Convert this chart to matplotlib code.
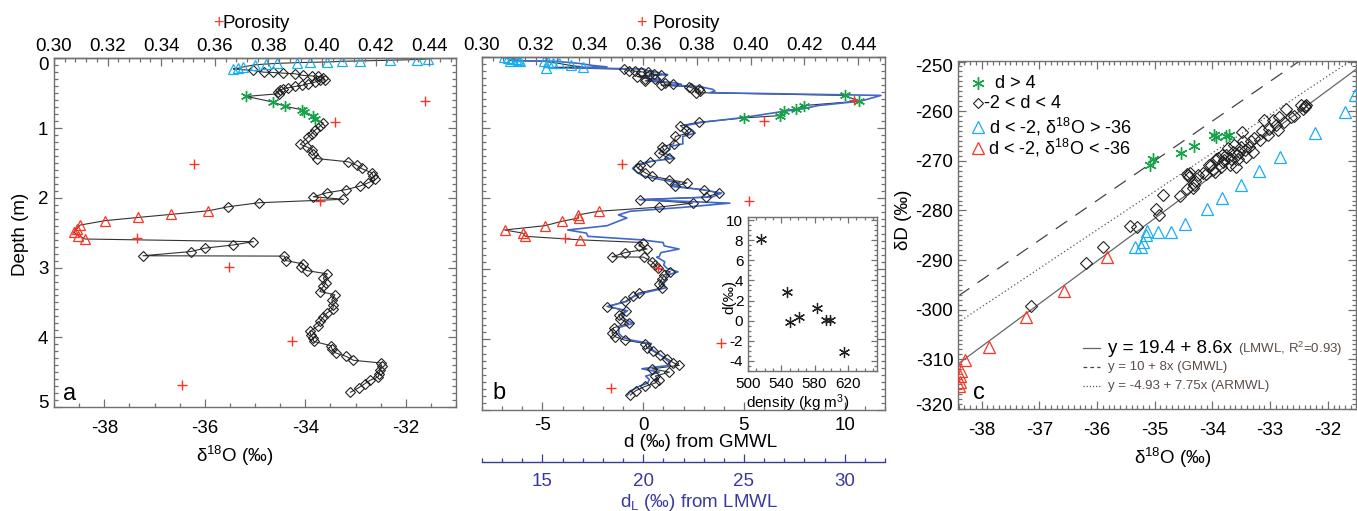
import numpy as np
import matplotlib
matplotlib.use('Agg')
import matplotlib.pyplot as plt
from matplotlib.ticker import MultipleLocator, FixedLocator, FormatStrFormatter
from matplotlib.transforms import ScaledTranslation

plt.rcParams['font.family'] = ['Liberation Sans', 'DejaVu Sans']
plt.rcParams['mathtext.fontset'] = 'custom'
plt.rcParams['mathtext.rm'] = 'Liberation Sans'
plt.rcParams['mathtext.it'] = 'Liberation Sans:italic'
plt.rcParams['mathtext.bf'] = 'Liberation Sans:bold'
plt.rcParams['mathtext.default'] = 'regular'
plt.rcParams['axes.unicode_minus'] = False

# ---------------- data: depth profiles (panels a, b) ----------------
depth = [0.005, 0.015, 0.025, 0.035, 0.04, 0.05, 0.055, 0.06, 0.07, 0.08, 0.09, 0.12, 0.14, 0.15,
         0.172, 0.196, 0.20, 0.21, 0.219, 0.243, 0.25, 0.258, 0.277, 0.305,
         0.315, 0.339, 0.362, 0.386, 0.40, 0.42, 0.434, 0.458, 0.482, 0.505,
         0.544, 0.625, 0.687, 0.734, 0.768, 0.83, 0.863,
         0.925, 0.973, 1.03, 1.077, 1.126, 1.23, 1.269, 1.306, 1.363, 1.435,
         1.483, 1.53, 1.578, 1.64, 1.688, 1.736, 1.784, 1.83, 1.88, 1.927, 1.984, 2.02, 2.07, 2.127,
         2.185, 2.237, 2.28, 2.327, 2.39, 2.45, 2.494, 2.54, 2.59,
         2.628, 2.675, 2.72, 2.77, 2.83, 2.835,
         2.9, 2.947, 2.994, 3.043, 3.09, 3.15, 3.215, 3.27, 3.343, 3.39,
         3.462, 3.534, 3.595, 3.652, 3.71, 3.773, 3.834, 3.916, 3.963, 4.01,
         4.059, 4.12, 4.167, 4.225, 4.273, 4.33, 4.368, 4.416, 4.464, 4.52,
         4.568, 4.617, 4.664, 4.725, 4.788]

d18o = [-31.55, -31.78, -32.31, -32.91, -33.27, -33.57, -33.91, -34.17, -34.57, -34.79, -35.00, -35.23, -35.33, -35.43,
        -35.03, -34.83, -34.65, -34.44, -34.20, -34.04, -33.87, -33.74, -33.64, -33.61,
        -33.71, -33.81, -33.94, -34.07, -34.20, -34.34, -34.44, -34.50, -34.54, -34.52,
        -35.17, -34.64, -34.40, -34.07, -34.02, -33.84, -33.81,
        -33.64, -33.71, -33.81, -33.87, -33.94, -34.10, -33.97, -33.87, -33.84, -33.77,
        -33.14, -32.98, -32.88, -32.68, -32.65, -32.61, -32.75, -32.91, -33.18, -33.57, -33.84, -33.24, -34.93, -35.53,
        -35.93, -36.68, -37.32, -37.99, -38.48, -38.55, -38.60, -38.52, -38.38,
        -35.03, -35.43, -35.99, -36.28, -37.23, -34.42,
        -34.38, -34.04, -34.09, -33.97, -33.56, -33.64, -33.59, -33.64, -33.71, -33.41,
        -33.47, -33.44, -33.45, -33.57, -33.64, -33.71, -33.74, -33.91, -33.89, -33.85,
        -33.83, -33.49, -33.47, -33.39, -33.19, -33.04, -32.50, -32.48, -32.51, -32.53,
        -32.55, -32.71, -32.81, -32.94, -33.10]

d_excess = [-6.9, -6.7, -6.5, -6.3, -6.2, -6.6, -6.1, -4.9, -4.7, -4.5, -4.2, -3.6, -3.0, -4.8,
            -0.97, -0.69, -0.42, -0.09, 0.22, 0.52, 0.9, 0.3, -0.3, 0.1,
            0.6, 0.1, 1.1, 1.46, 0.9, 2.26, 2.39, 2.75, 2.84, 2.6,
            10.0, 10.7, 8.0, 7.6, 7.0, 6.8, 5.0,
            2.75, 1.84, 2.12, 2.26, 1.6, 1.51, 0.93, 1.02, 0.77, 1.3,
            0.35, -0.14, -0.26, 0.1, 0.44, 1.3, 2.17, 1.6, 3.0, 3.75, 3.12, -0.14, 2.45, 0.77,
            -2.21, -3.24, -3.2, -4.03, -4.89, -6.88, -5.98, -5.85, -3.12,
            -0.03, -0.22, 0.19, -0.89, -1.55, 0.02,
            0.44, 0.6, 0.73, 1.35, 1.02, 0.93, 0.77, 0.93, -0.22, -0.5,
            -0.89, -1.8, -0.85, -1.22, -1.13, -0.72, -1.47, -1.55, -1.38, -0.92,
            0.11, 0.19, 0.5, 0.85, 1.18, 1.5, 1.79, 0.44, 1.3, 0.6,
            0.77, 0.6, 0.11, -0.36, -0.64]

d_lmwl = [13.0, 13.2, 13.4, 13.6, 13.8, 13.5, 14.2, 15.6, 16.0, 16.4, 16.8, 17.5, 18.2, 16.5,
          20.05, 20.21, 20.37, 20.57, 20.74, 20.94, 21.22, 20.54, 19.88, 20.27,
          20.83, 20.39, 21.46, 21.9, 21.42, 22.86, 23.05, 23.45, 23.56, 23.31,
          31.8, 30.8, 28.7, 27.9, 27.0, 25.6, 24.8,
          22.93, 22.07, 22.41, 22.58, 21.96, 21.97, 21.31, 21.34, 21.07, 21.56,
          20.23, 19.65, 19.47, 19.71, 20.03, 20.87, 21.82, 21.35, 22.91, 23.89, 23.42, 19.8, 24.3, 22.09,
          19.35, 18.77, 19.19, 18.76, 18.2, 16.25, 17.18, 17.26, 19.91,
          20.99, 21.04, 21.78, 20.88, 20.79, 20.67,
          21.07, 21.02, 21.18, 21.73, 21.16, 21.11, 20.92, 21.11, 20.01, 19.55,
          19.19, 18.26, 19.22, 18.92, 19.05, 19.51, 18.77, 18.8, 18.95, 19.39,
          20.41, 20.28, 20.58, 20.88, 21.09, 21.32, 21.29, 19.93, 20.81, 20.12,
          20.3, 20.23, 19.8, 19.4, 19.22]

category = (['tri_hi'] * 14 + ['mid'] * 20 + ['dhi'] * 7 + ['mid'] * 24 +
            ['tri_lo'] * 9 + ['mid'] * 41)

por_depth = [0.61, 0.911, 1.52, 2.046, 2.57, 2.995, 4.058, 4.683]
porosity = [0.4384, 0.4049, 0.3522, 0.3993, 0.3309, 0.3654, 0.3889, 0.3479]

# inset
density = [516, 547, 551, 561, 583, 594, 598, 615]
dens_d = [8.1, 2.8, -0.15, 0.35, 1.25, 0.05, 0.1, -3.1]

# ---------------- data: dual isotope plot (panel c) ----------------
c_star_x = [-35.09, -35.03, -34.55, -34.31, -33.97, -33.93, -33.76, -33.72]
c_star_y = [-270.8, -269.7, -268.5, -267.0, -264.9, -265.3, -265.1, -264.9]

c_dia_x = [-37.14, -36.19, -35.90, -35.43, -35.31, -34.97, -34.92, -34.85, -34.56, -34.44, -34.34, -34.30, -34.25, -34.16,
           -34.44, -34.41, -34.31, -34.11, -34.02, -33.99, -33.93, -33.85, -33.79, -33.76, -33.73, -33.70, -33.67,
           -33.64, -33.62, -33.59, -33.56, -33.53, -33.50, -33.49, -33.47, -33.44, -33.41, -33.37, -33.33, -33.30,
           -33.27, -33.18, -33.14, -33.10, -33.04, -33.01, -32.95, -32.89, -32.86, -32.84, -32.75, -32.72, -32.63,
           -32.58, -32.46, -32.40, -32.37, -32.43,
           -34.42, -34.38, -33.90, -33.84, -33.95, -34.05, -33.81, -33.58, -32.40]
c_dia_y = [-299.3, -290.6, -287.4, -283.2, -283.3, -279.7, -280.9, -276.8, -277.0, -275.6, -275.5, -274.1, -272.9, -272.5,
           -272.7, -273.2, -274.9, -272.7, -270.8, -271.8, -269.6, -271.2, -269.9, -268.9, -267.5, -270.8, -269.6,
           -268.2, -266.8, -271.2, -269.6, -268.2, -267.2, -264.2, -266.1, -267.8, -269.2, -267.2, -266.1, -268.2,
           -265.5, -265.8, -263.9, -261.8, -264.8, -263.5, -261.8, -262.8, -263.7, -261.2, -262.2, -259.5, -261.2,
           -260.9, -258.8, -259.2, -258.7, -259.5,
           -272.9, -272.4, -269.4, -268.9, -272.2, -270.8, -270.2, -268.9, -259.0]

c_blue_x = [-31.52, -31.70, -32.22, -32.83, -33.20, -33.50, -33.83, -34.09, -34.48, -34.71, -34.94, -35.13,
            -35.15, -35.20, -35.24, -35.34]
c_blue_y = [-256.7, -260.1, -264.4, -269.3, -272.0, -274.9, -277.5, -279.7, -282.8, -284.3, -284.3, -284.2,
            -285.0, -286.3, -287.4, -287.4]

c_red_x = [-35.83, -36.58, -37.23, -37.88, -38.29, -38.36, -38.37, -38.38, -38.39]
c_red_y = [-289.3, -296.3, -301.4, -307.6, -310.2, -312.4, -313.4, -314.6, -315.3]

# meteoric water lines (intercept, slope)
lmwl = (19.4, 8.6)
gmwl = (10.0, 8.0)
armwl = (-4.93, 7.75)

# ---------------- style ----------------
SP = '#707070'
RED = '#ff3322'
GREEN = '#17a34a'
CYAN = '#1aaef0'
BLUE = '#3f68c8'
DLC = '#3a3a9c'
TXT2 = '#5a4d48'


def mstyle(scale=1.0, dscale=1.0):
    return {
        'mid': dict(marker='D', ms=4.6 * dscale, mfc='none', mec='#222222', mew=0.8),
        'dhi': dict(marker=(6, 2, 0), ms=8.0 * scale, mfc='none', mec=GREEN, mew=1.0),
        'tri_hi': dict(marker='^', ms=7.8 * scale, mfc='none', mec=CYAN, mew=0.9),
        'tri_lo': dict(marker='^', ms=7.8 * scale, mfc='none', mec=RED, mew=0.9),
    }


def style(ax, fs=13.5):
    for s in ax.spines.values():
        s.set_color(SP)
        s.set_linewidth(1.0)
    ax.tick_params(which='both', direction='in', color=SP, width=0.9, labelsize=fs)
    ax.tick_params(which='major', length=6)
    ax.tick_params(which='minor', length=3)


def shift_label(axis, index, dy_px, fig):
    """Shift an end tick label vertically (IDL keeps end labels inside the axis)."""
    ticks = axis.get_major_ticks()
    lab = ticks[index].label1
    lab.set_transform(lab.get_transform() + ScaledTranslation(0, dy_px / fig.dpi, fig.dpi_scale_trans))


W, H = 1357, 511


def rect(l, t, r, b):
    return [l / W, 1 - b / H, (r - l) / W, (b - t) / H]


fig = plt.figure(figsize=(13.57, 5.11), dpi=100)
fig.patch.set_facecolor('white')

dep = np.asarray(depth)
cat = np.asarray(category)

# ================= panel a =================
axa = fig.add_axes(rect(54, 58.5, 456, 407))
style(axa)
axa.set_xlim(-39, -31)
axa.set_ylim(5, 0)
axa.xaxis.set_major_locator(MultipleLocator(2))
axa.xaxis.set_minor_locator(MultipleLocator(0.5))
axa.yaxis.set_major_locator(FixedLocator([0, 1, 2, 3, 4, 5]))
axa.yaxis.set_minor_locator(MultipleLocator(0.1))
axa.tick_params(axis='y', which='both', right=True, labelright=False, pad=4)
axa.tick_params(axis='x', which='both', pad=9)
axa.plot(d18o, depth, color='#333333', lw=0.8, zorder=2)
x_a = np.asarray(d18o)
for k, st in mstyle().items():
    m = cat == k
    axa.plot(x_a[m], dep[m], ls='none', zorder=3, **st)
axa.set_xlabel('δ$^{18}$O (‰)', fontsize=13.5)
axa.xaxis.set_label_coords(0.449, -0.105)
axa.set_ylabel('Depth (m)', fontsize=13.5)
axa.yaxis.set_label_coords(-0.063, 0.494)
axa.text(0.022, 0.02, 'a', transform=axa.transAxes, fontsize=17, va='baseline', ha='left')
shift_label(axa.yaxis, 0, -4.5, fig)
shift_label(axa.yaxis, 5, 6.0, fig)

axat = axa.twiny()
style(axat)
for s in ('bottom', 'left', 'right'):
    axat.spines[s].set_visible(False)
axat.set_xlim(0.30, 0.45)
axat.xaxis.set_major_locator(MultipleLocator(0.02))
axat.xaxis.set_minor_locator(MultipleLocator(0.004))
axat.xaxis.set_major_formatter(FormatStrFormatter('%.2f'))
axat.tick_params(axis='x', which='both', top=True, bottom=False, labeltop=True, labelbottom=False, pad=2.2)
axat.plot(porosity, por_depth, ls='none', marker='+', ms=7, mew=1.0, color=RED, zorder=4)
fig.text(218 / W, 1 - 24 / H, '+', color=RED, fontsize=13, ha='center', va='center')
fig.text(223 / W, 1 - 23 / H, 'Porosity', fontsize=13.5, ha='left', va='center')

# ================= panel b =================
axb = fig.add_axes(rect(482, 57, 885, 410))
style(axb)
axb.set_xlim(-8, 12)
axb.set_ylim(5, 0)
axb.xaxis.set_major_locator(MultipleLocator(5))
axb.xaxis.set_minor_locator(MultipleLocator(1))
axb.yaxis.set_major_locator(MultipleLocator(1))
axb.yaxis.set_minor_locator(MultipleLocator(0.1))
axb.tick_params(axis='y', which='both', right=True, labelleft=False)
axb.tick_params(axis='x', which='both', pad=4.8)

axb2 = axb.twiny()
style(axb2)
axb2.set_xlim(12, 32)
axb2.xaxis.set_ticks_position('bottom')
axb2.xaxis.set_label_position('bottom')
for s in ('top', 'left', 'right'):
    axb2.spines[s].set_visible(False)
axb2.spines['bottom'].set_position(('outward', 37.2))
axb2.spines['bottom'].set_color(DLC)
axb2.xaxis.set_major_locator(MultipleLocator(5))
axb2.xaxis.set_minor_locator(MultipleLocator(1))
axb2.tick_params(axis='x', which='both', color=DLC, labelcolor=DLC, pad=8.4)
axb2.set_xlabel('d$_L$ (‰) from LMWL', fontsize=13.5, color=DLC)
axb2.xaxis.set_label_coords(0.54, -0.232)

axb.plot(d_excess, depth, color='#333333', lw=0.8, zorder=2)
axb.plot(d_lmwl, depth, color=BLUE, lw=1.2, zorder=2.5, transform=axb2.transData)
x_b = np.asarray(d_excess)
for k, st in mstyle().items():
    m = cat == k
    axb.plot(x_b[m], dep[m], ls='none', zorder=3, **st)
axb.set_xlabel('d (‰) from GMWL', fontsize=13.5)
axb.xaxis.set_label_coords(0.543, -0.067)
axb.text(0.027, 0.03, 'b', transform=axb.transAxes, fontsize=17, va='baseline', ha='left')

axb3 = axb.twiny()
style(axb3)
for s in ('bottom', 'left', 'right'):
    axb3.spines[s].set_visible(False)
axb3.set_xlim(0.30, 0.45)
axb3.xaxis.set_major_locator(MultipleLocator(0.02))
axb3.xaxis.set_minor_locator(MultipleLocator(0.004))
axb3.xaxis.set_major_formatter(FormatStrFormatter('%.2f'))
axb3.tick_params(axis='x', which='both', top=True, bottom=False, labeltop=True, labelbottom=False, pad=2.3)
axb3.plot(porosity, por_depth, ls='none', marker='+', ms=7, mew=1.0, color=RED, zorder=4)
fig.text(641.7 / W, 1 - 23 / H, '+', color=RED, fontsize=13, ha='center', va='center')
fig.text(652 / W, 1 - 23 / H, 'Porosity', fontsize=13.5, ha='left', va='center')

# ================= panel c =================
axc = fig.add_axes(rect(958, 61.5, 1356, 409))
style(axc)
axc.set_xlim(-38.41, -31.51)
axc.set_ylim(-320, -250)
axc.xaxis.set_major_locator(MultipleLocator(1))
axc.xaxis.set_minor_locator(MultipleLocator(0.1))
axc.yaxis.set_major_locator(FixedLocator([-320, -310, -300, -290, -280, -270, -260, -250]))
axc.yaxis.set_minor_locator(MultipleLocator(1))
axc.tick_params(which='both', top=True, right=True, labeltop=False, labelright=False)
axc.tick_params(axis='x', which='both', pad=9)
axc.tick_params(axis='y', which='both', pad=3.4)
shift_label(axc.yaxis, 0, 5.0, fig)
shift_label(axc.yaxis, 7, -3.5, fig)

axc.axline((0, lmwl[0]), slope=lmwl[1], color='#666666', lw=0.9, zorder=1)
axc.axline((0, gmwl[0]), slope=gmwl[1], color='#444444', lw=0.9, dashes=(11, 8), zorder=1)
axc.axline((0, armwl[0]), slope=armwl[1], color='#555555', lw=0.9, dashes=(1, 2), zorder=1)

cs = mstyle(1.12, 1.3)
axc.plot(c_dia_x, c_dia_y, ls='none', zorder=3, **cs['mid'])
axc.plot(c_star_x, c_star_y, ls='none', zorder=3, **cs['dhi'])
axc.plot(c_blue_x, c_blue_y, ls='none', zorder=3, **cs['tri_hi'])
axc.plot(c_red_x, c_red_y, ls='none', zorder=3, **cs['tri_lo'])

axc.set_xlabel('δ$^{18}$O (‰)', fontsize=13.5)
axc.xaxis.set_label_coords(0.539, -0.107)
axc.set_ylabel('δD (‰)', fontsize=13.5)
axc.yaxis.set_label_coords(-0.116, 0.544)
axc.text(0.037, 0.029, 'c', transform=axc.transAxes, fontsize=17, va='baseline', ha='left')

# marker legend
cl = mstyle(1.12, 1.15)
leg_rows = [('dhi', ' d > 4', 0.937, 0.080),
            ('mid', '-2 < d < 4', 0.880, 0.066),
            ('tri_hi', 'd < -2, δ$^{18}$O > -36', 0.812, 0.079),
            ('tri_lo', 'd < -2, δ$^{18}$O < -36', 0.750, 0.076)]
for k, label, yy, xt in leg_rows:
    axc.plot([0.050], [yy], transform=axc.transAxes, ls='none', clip_on=False, **cl[k])
    axc.text(xt, yy, label, transform=axc.transAxes, fontsize=13, va='center', ha='left')

# line legend
lx0, lx1, tx = 0.314, 0.357, 0.377
axc.plot([lx0, lx1], [0.1755, 0.1755], transform=axc.transAxes, color='#666666', lw=0.9)
axc.plot([lx0, lx1], [0.121, 0.121], transform=axc.transAxes, color='#444444', lw=0.9, dashes=(3, 2.5))
axc.plot([lx0, lx1], [0.066, 0.066], transform=axc.transAxes, color='#555555', lw=0.9, dashes=(1, 1.5))
t1 = axc.text(tx, 0.1755, 'y = 19.4 + 8.6x', transform=axc.transAxes, fontsize=13.5, va='center', ha='left')
axc.annotate('(LMWL, R$^2$=0.93)', xy=(1, 0.45), xycoords=t1, xytext=(4, 0), textcoords='offset points',
             fontsize=9.5, color=TXT2, va='center', ha='left')
axc.text(tx, 0.121, 'y = 10 + 8x (GMWL)', transform=axc.transAxes, fontsize=9.5, color=TXT2, va='center')
axc.text(tx, 0.066, 'y = -4.93 + 7.75x (ARMWL)', transform=axc.transAxes, fontsize=9.5, color=TXT2, va='center')

# ================= inset =================
axi = fig.add_axes(rect(748, 217, 877, 371))
style(axi, fs=11)
axi.set_facecolor('white')
axi.set_xlim(500, 655)
axi.set_ylim(-5, 10.3)
axi.xaxis.set_major_locator(FixedLocator([500, 540, 580, 620]))
axi.xaxis.set_minor_locator(MultipleLocator(10))
axi.yaxis.set_major_locator(MultipleLocator(2))
axi.yaxis.set_minor_locator(MultipleLocator(0.5))
axi.tick_params(which='both', top=True, right=True)
axi.tick_params(which='major', length=4)
axi.tick_params(which='minor', length=2)
axi.tick_params(axis='x', which='both', pad=4.5)
axi.tick_params(axis='y', which='both', pad=3.4)
axi.plot(density, dens_d, ls='none', marker=(6, 2, 0), ms=8, mec='#222222', mew=0.9)
axi.set_xlabel('density (kg m$^3$)', fontsize=11)
axi.xaxis.set_label_coords(0.388, -0.136)
axi.set_ylabel('d(‰)', fontsize=11)
axi.yaxis.set_label_coords(-0.093, 0.48)

fig.savefig('out.png', dpi=100, facecolor='white')
